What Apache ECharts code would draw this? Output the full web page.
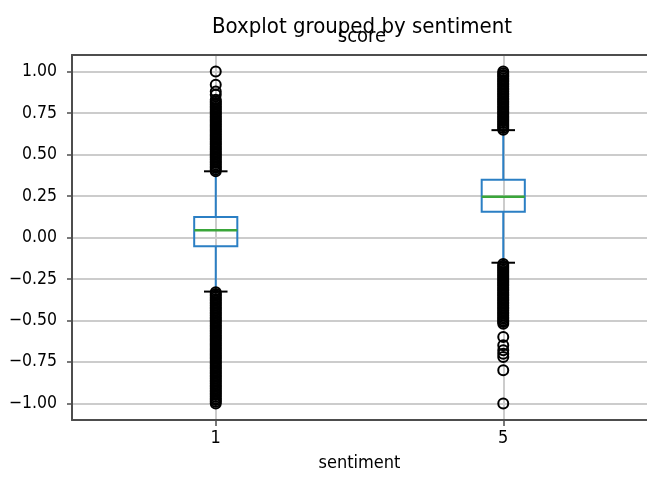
<!DOCTYPE html>
<html><head><meta charset="utf-8">
<script src="https://cdn.jsdelivr.net/npm/echarts@6/dist/echarts.min.js"></script>
<style>html,body{margin:0;padding:0;background:#fff}#c{width:647px;height:477px}</style>
</head><body><div id="c"></div>
<script>
const categories = ['1', '5'];
const yTicks = [-1.00, -0.75, -0.50, -0.25, 0.00, 0.25, 0.50, 0.75, 1.00];
// [lower whisker, Q1, median, Q3, upper whisker]
const box1 = [-0.326, -0.052, 0.043, 0.123, 0.399];
const box5 = [-0.152, 0.155, 0.245, 0.348, 0.647];
const outliers1High = [0.40,0.41,0.42,0.43,0.44,0.45,0.46,0.47,0.48,0.49,0.50,0.51,0.52,0.53,0.54,0.55,0.56,0.57,0.58,0.59,0.60,0.61,0.62,0.63,0.64,0.65,0.66,0.67,0.68,0.69,0.70,0.71,0.72,0.73,0.74,0.75,0.76,0.77,0.78,0.79,0.80,0.81,0.82,0.83,0.86,0.88,0.92,1.00];
const outliers1Low = [-0.33,-0.34,-0.35,-0.36,-0.37,-0.38,-0.39,-0.40,-0.41,-0.42,-0.43,-0.44,-0.45,-0.46,-0.47,-0.48,-0.49,-0.50,-0.51,-0.52,-0.53,-0.54,-0.55,-0.56,-0.57,-0.58,-0.59,-0.60,-0.61,-0.62,-0.63,-0.64,-0.65,-0.66,-0.67,-0.68,-0.69,-0.70,-0.71,-0.72,-0.73,-0.74,-0.75,-0.76,-0.77,-0.78,-0.79,-0.80,-0.81,-0.82,-0.83,-0.84,-0.85,-0.86,-0.87,-0.88,-0.89,-0.90,-0.91,-0.92,-0.93,-0.94,-0.95,-0.96,-0.97,-0.98,-0.99,-1.00];
const outliers5High = [0.65,0.66,0.67,0.68,0.69,0.70,0.71,0.72,0.73,0.74,0.75,0.76,0.77,0.78,0.79,0.80,0.81,0.82,0.83,0.84,0.85,0.86,0.87,0.88,0.89,0.90,0.91,0.92,0.93,0.94,0.95,0.96,0.97,0.98,0.99,1.00];
const outliers5Low = [-0.16,-0.17,-0.18,-0.19,-0.20,-0.21,-0.22,-0.23,-0.24,-0.25,-0.26,-0.27,-0.28,-0.29,-0.30,-0.31,-0.32,-0.33,-0.34,-0.35,-0.36,-0.37,-0.38,-0.39,-0.40,-0.41,-0.42,-0.43,-0.44,-0.45,-0.46,-0.47,-0.48,-0.49,-0.50,-0.51,-0.52,-0.60,-0.65,-0.68,-0.70,-0.72,-0.80,-1.00];

const FONT = "'DejaVu Sans Condensed', 'DejaVu Sans', sans-serif";
const BLUE = '#2b7fc4', GREEN = '#3aa63a', SPINE = '#4d4d4d', GRID = '#cccccc';

const boxData = [[0].concat(box1), [1].concat(box5)];
const outlierData = []
  .concat(outliers1High.map(v => [0, v]), outliers1Low.map(v => [0, v]))
  .concat(outliers5High.map(v => [1, v]), outliers5Low.map(v => [1, v]));

function fmt(v) {
  const s = Math.abs(v).toFixed(2);
  return v < -1e-9 ? '\u2212' + s : s;
}

const chart = echarts.init(document.getElementById('c'), null, {renderer: 'canvas'});
chart.setOption({
  backgroundColor: '#fff',
  animation: false,
  title: [
    {text: 'Boxplot grouped by sentiment', left: 357, top: 11, textAlign: 'center',
     textStyle: {fontFamily: FONT, fontSize: 22, fontWeight: 'normal', color: '#000'}},
    {text: 'score', left: 357, top: 22, textAlign: 'center',
     textStyle: {fontFamily: FONT, fontSize: 20, fontWeight: 'normal', color: '#000'}}
  ],
  grid: {left: 72, top: 55, width: 581, height: 373, containLabel: false},
  xAxis: [
    {type: 'category', data: categories, boundaryGap: true, position: 'bottom',
     name: 'sentiment', nameLocation: 'middle', nameGap: 34,
     nameTextStyle: {fontFamily: FONT, fontSize: 18, color: '#000'},
     axisLine: {show: true, onZero: false, lineStyle: {color: SPINE, width: 2}},
     axisTick: {show: true, alignWithLabel: true, length: 6, lineStyle: {color: SPINE, width: 1.5}},
     axisLabel: {fontFamily: FONT, fontSize: 18, color: '#000', margin: 9},
     splitLine: {show: false}},
    {type: 'category', data: ['a', 'b', 'c', 'd', 'e'], boundaryGap: false, position: 'top',
     axisLine: {show: true, onZero: false, lineStyle: {color: SPINE, width: 2}},
     axisTick: {show: false}, axisLabel: {show: false},
     splitLine: {show: true, interval: (i) => i === 1 || i === 3, lineStyle: {color: GRID, width: 2}}}
  ],
  yAxis: {
    type: 'value', min: -1.1, max: 1.1,
    axisLine: {show: true, onZero: false, lineStyle: {color: SPINE, width: 2}},
    axisTick: {show: true, length: 5, customValues: yTicks, lineStyle: {color: SPINE, width: 1.5}},
    axisLabel: {fontFamily: FONT, fontSize: 17.5, color: '#000', margin: 15, customValues: yTicks, formatter: fmt},
    splitLine: {show: true, lineStyle: {color: GRID, width: 2}}
  },
  series: [
    {
      type: 'custom', xAxisIndex: 0, z: 2,
      data: boxData,
      encode: {x: 0, y: [1, 2, 3, 4, 5]},
      renderItem: function (params, api) {
        const i = api.value(0);
        const pLo = api.coord([i, api.value(1)]);
        const pQ1 = api.coord([i, api.value(2)]);
        const pMed = api.coord([i, api.value(3)]);
        const pQ3 = api.coord([i, api.value(4)]);
        const pHi = api.coord([i, api.value(5)]);
        const band = api.size([1, 0])[0];
        const half = band * 0.15 / 2;
        const capHalf = half / 2 + 1;
        const x = pLo[0];
        return {type: 'group', children: [
          {type: 'line', shape: {x1: x, y1: pLo[1], x2: x, y2: pQ1[1]}, style: {stroke: BLUE, lineWidth: 2}},
          {type: 'line', shape: {x1: x, y1: pQ3[1], x2: x, y2: pHi[1]}, style: {stroke: BLUE, lineWidth: 2}},
          {type: 'line', shape: {x1: x - capHalf, y1: pLo[1], x2: x + capHalf, y2: pLo[1]}, style: {stroke: '#000', lineWidth: 2}},
          {type: 'line', shape: {x1: x - capHalf, y1: pHi[1], x2: x + capHalf, y2: pHi[1]}, style: {stroke: '#000', lineWidth: 2}},
          {type: 'rect', shape: {x: x - half, y: pQ3[1], width: 2 * half, height: pQ1[1] - pQ3[1]}, style: {fill: 'none', stroke: BLUE, lineWidth: 2}},
          {type: 'line', shape: {x1: x - half, y1: pMed[1], x2: x + half, y2: pMed[1]}, style: {stroke: GREEN, lineWidth: 2.5}}
        ]};
      }
    },
    {
      type: 'scatter', xAxisIndex: 0, z: 3,
      data: outlierData,
      symbol: 'circle', symbolSize: 10,
      itemStyle: {color: 'rgba(0,0,0,0)', borderColor: '#000', borderWidth: 2, opacity: 1},
      emphasis: {disabled: true}
    }
  ]
});
</script></body></html>
